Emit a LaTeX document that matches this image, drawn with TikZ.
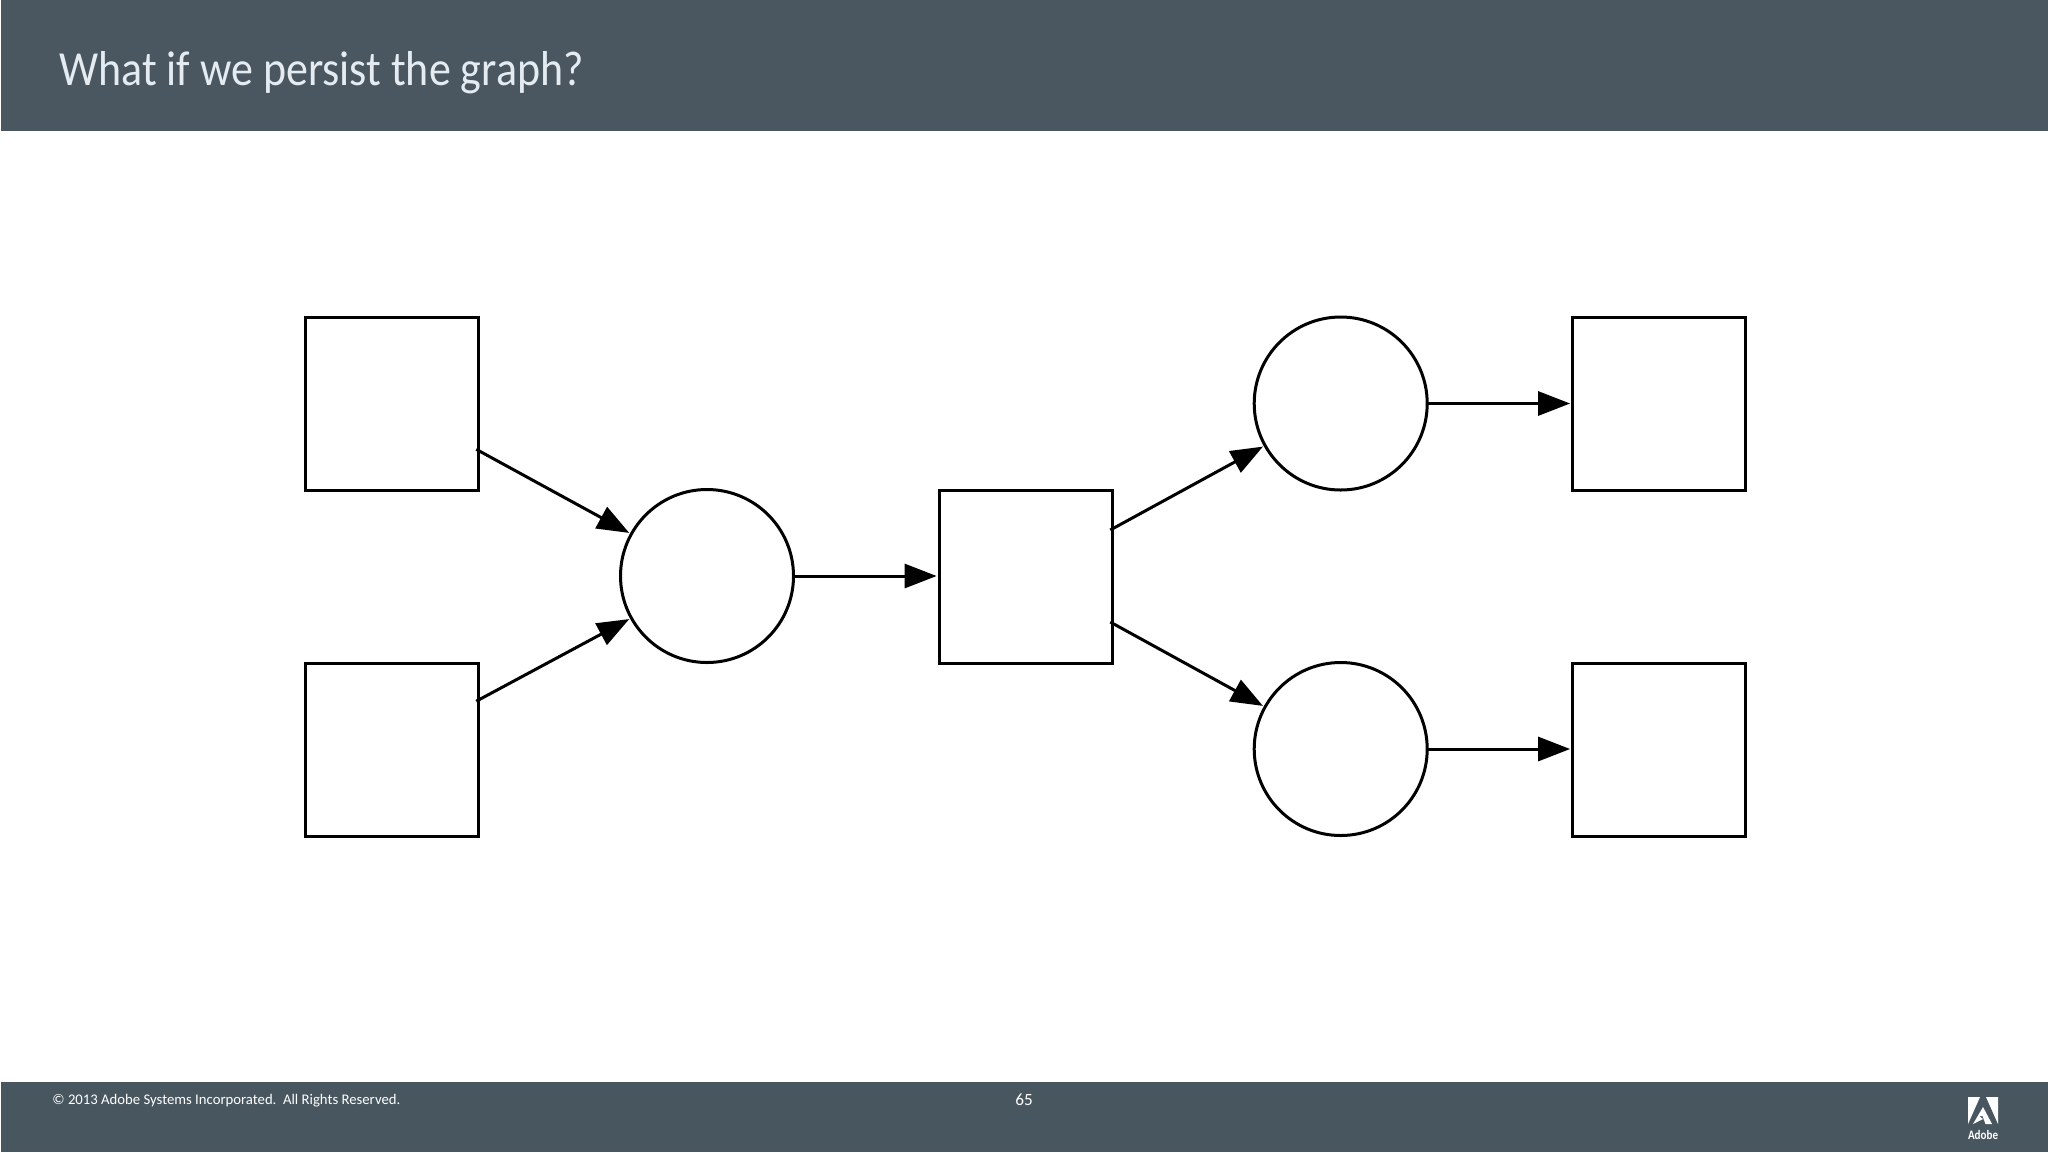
\documentclass[tikz,border=0pt]{standalone}
\usepackage{fontspec}
\usetikzlibrary{arrows.meta}
\setmainfont{Carlito}
\definecolor{barcol}{HTML}{4A5761}
\definecolor{footcol}{HTML}{48565F}
\definecolor{titlecol}{HTML}{E4ECF2}
\tikzset{
  x=0.5pt,y=-0.5pt,
  shapeline/.style={draw=black,line width=1.5pt,inner sep=0pt,outer sep=0pt,line join=miter},
  sqbox/.style={shapeline,rectangle,minimum width=86.5pt,minimum height=86.5pt},
  circ/.style={shapeline,circle,minimum size=86.5pt},
  link/.style={draw=black,line width=1.5pt,shorten >=1.2pt,-{Triangle[length=16pt,width=12pt]}},
  foottext/.style={text=white,inner sep=0pt,anchor=base west,font=\fontsize{7.36}{9}\selectfont}
}
\begin{document}
\begin{tikzpicture}
\useasboundingbox (0,0) rectangle (2048,1152);
\fill[white] (0,0) rectangle (2048,1152);
\fill[barcol] (1,0) rectangle (2048,131);
\fill[footcol] (1,1082) rectangle (2048,1152);
\node[text=titlecol,inner sep=0pt,anchor=base west,xscale=0.897,font=\fontsize{24.5}{28}\selectfont] (title) at (59,85) {What if we persist the graph?};
\node[foottext] (copy) at (52,1104) {© 2013 Adobe Systems Incorporated.\ \ All Rights Reserved.};
\node[foottext,anchor=base,font=\fontsize{8.6}{10}\selectfont] (page) at (1024,1105) {65};
% logo
\fill[white] (1968,1097) -- (1980,1097) -- (1968,1124) -- cycle;
\fill[white] (1986,1097) -- (1998,1097) -- (1998,1124) -- cycle;
\fill[white] (1983,1107) -- (1992,1124) -- (1985.5,1124) -- (1982.5,1116) -- (1979,1116) -- (1983,1119) -- (1973,1124) -- cycle;
\node[text=white,inner sep=0pt,anchor=base,xscale=0.85,font=\fontsize{6.5}{8}\bfseries\selectfont] (brand) at (1983,1139) {Adobe};
% diagram
\node[sqbox] (a) at (391.5,404.3) {};
\node[sqbox] (b) at (391.5,750.2) {};
\node[circ] (c) at (707,576) {};
\node[sqbox] (d) at (1025.5,577) {};
\node[circ] (e) at (1340.7,403.5) {};
\node[circ] (f) at (1340.7,749) {};
\node[sqbox] (g) at (1659,404.3) {};
\node[sqbox] (h) at (1659,750.2) {};
\draw[link,shorten <=-1pt] (a.-28) -- (c.151);
\draw[link,shorten <=-1pt] (b.30) -- (c.-151);
\draw[link] (c.0) -- (c.0 -| d.west);
\draw[link,shorten <=-1pt] (d.29.5) -- (e.-151);
\draw[link,shorten <=-1pt] (d.-28) -- (f.151);
\draw[link] (e.0) -- (e.0 -| g.west);
\draw[link] (f.0) -- (f.0 -| h.west);
\end{tikzpicture}
\end{document}
